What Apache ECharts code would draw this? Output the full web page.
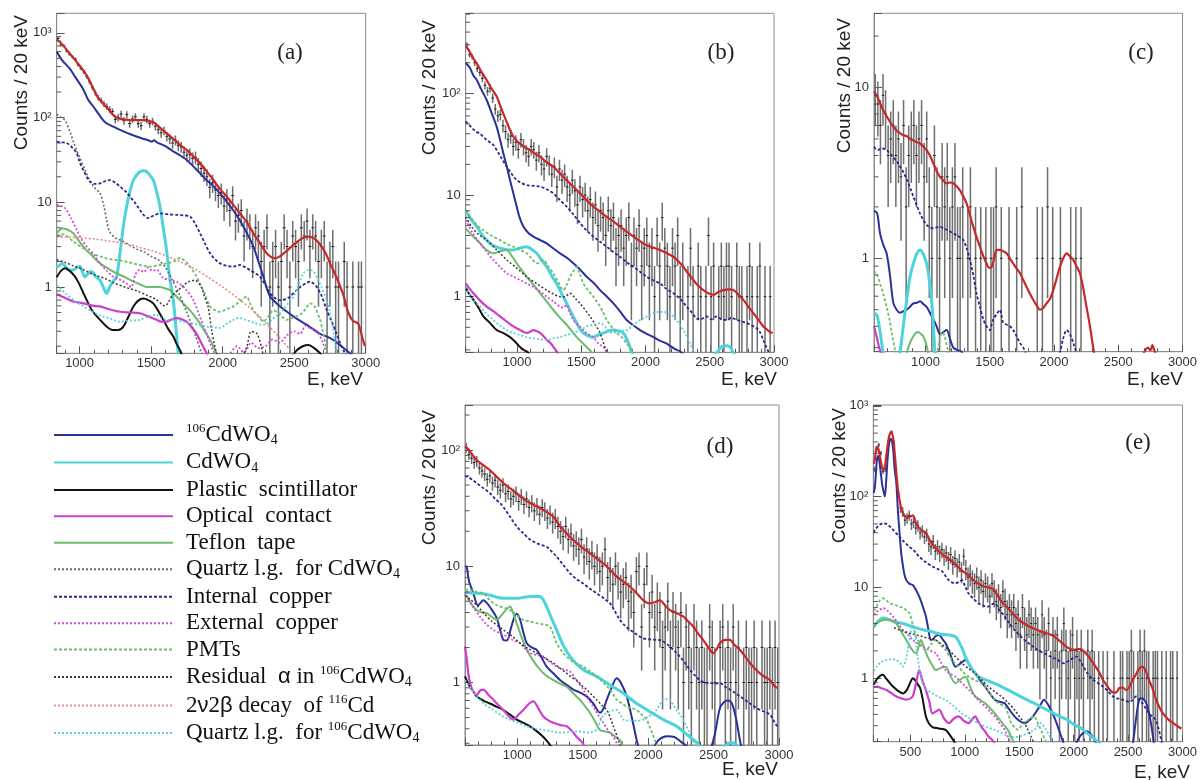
<!DOCTYPE html>
<html><head><meta charset="utf-8">
<script src="https://cdn.jsdelivr.net/npm/echarts@6.0.0/dist/echarts.min.js"></script>
<style>html,body{margin:0;padding:0;background:#fff;}#c{width:1200px;height:780px;}</style>
</head><body><div id="c"></div>
<script>
// ---------------- axis / tick tables ----------------
const BIN = 20;
const minorMult = [2,3,4,5,6,7,8,9];
const decades = [0.1,1,10,100,1000];
const xTickLabels = [500,1000,1500,2000,2500,3000];
const yTickValues = [1,10,100,1000];
const yTickTexts = ['1','10','10\u00B2','10\u00B3'];
const compNames = ['106CdWO4','CdWO4','Plastic scintillator','Optical contact','Teflon tape','Quartz l.g. for CdWO4','Internal copper','External copper','PMTs','Residual \u03B1 in 106CdWO4','2\u03BD2\u03B2 decay of 116Cd','Quartz l.g. for 106CdWO4'];
const legendTexts = [
 '{sup|106}{t|CdWO}{sub|4}',
 '{t|CdWO}{sub|4}',
 '{t|Plastic  scintillator}',
 '{t|Optical  contact}',
 '{t|Teflon  tape}',
 '{t|Quartz l.g.  for }{t|CdWO}{sub|4}',
 '{t|Internal  copper}',
 '{t|External  copper}',
 '{t|PMTs}',
 '{t|Residual  }{g|\u03B1}{t| in }{sup|106}{t|CdWO}{sub|4}',
 '{t|2}{g|\u03BD}{t|2}{g|\u03B2}{t| decay  of }{sup|116}{t|Cd}',
 '{t|Quartz l.g.  for }{sup|106}{t|CdWO}{sub|4}'
];

// ---------------- panel (a) ----------------
const a_binStart = 840;
const a_counts = [860,720,700,610,560,520,490,420,
 380,345,305,265,225,195,172,160,145,135,
 125,118,95,100,110,92,108,85,96,102,
 85,80,102,95,85,90,79,72,66,70,
 60,56,50,54,47,45,39,36,37,33,
 34,28,25,22,20,15,17,14,12,13,
 9,11,8,12,6,7,8,4,6,5,
 3,5,4,2,3,5,1,2,3,1,
 2,5,3,1,4,3,2,5,4,6,
 3,5,4,2,3,4,1,2,3,1,
 1,0,2,1,0,1,0,1,1,0];
const a_total = [[840,830],[870,760],[910,630],[968,479],[1026,360],[1061,290],[1096,220],[1131,170],[1166,145],[1200,125],[1247,103],[1306,95],[1360,93],[1434,93],[1492,90],[1527,86],[1562,76],[1600,67],[1644,58],[1700,48],[1760,40],[1800,34],[1842,29],[1877,24.5],[1935,18.3],[1980,14.5],[2028,11.7],[2075,9.3],[2121,7.4],[2170,5.8],[2215,4.3],[2260,3.3],[2308,2.5],[2340,2.25],[2366,2.18],[2400,2.3],[2440,2.6],[2500,3.2],[2550,3.7],[2599,3.93],[2640,3.75],[2680,3.2],[2720,2.5],[2751,1.9],[2800,1.25],[2844,0.8],[2878,0.5],[2910,0.4],[2948,0.37],[2965,0.3],[2980,0.24],[2995,0.2]];
const a_cd106 = [[840,600],[880,470],[930,380],[968,304],[1026,215],[1061,161],[1096,135],[1130,112],[1178,88],[1236,78],[1294,70],[1360,63],[1434,57],[1480,54],[1504,52],[1520,54],[1540,51],[1600,46],[1644,41],[1700,36],[1755,31],[1800,26],[1842,22],[1877,19],[1935,15.5],[1980,12.8],[2028,10.2],[2075,8],[2121,6.1],[2170,4.3],[2215,3.0],[2250,2.0],[2285,1.32],[2310,0.95],[2332,0.77],[2365,0.67],[2401,0.59],[2450,0.51],[2494,0.45],[2540,0.4],[2587,0.36],[2630,0.32],[2681,0.28],[2730,0.26],[2774,0.237],[2830,0.2],[2890,0.165],[2920,0.15]];
const a_cdwo = [[840,1.7],[860,1.8],[880,1.9],[900,1.75],[920,1.6],[956,1.59],[980,1.7],[1003,1.74],[1020,1.5],[1038,1.32],[1060,1.45],[1084,1.52],[1110,1.35],[1143,1.2],[1165,1.0],[1189,0.84],[1205,0.95],[1224,1.1],[1240,1.2],[1259,1.32],[1275,2.0],[1294,3.6],[1310,5.8],[1329,8.9],[1350,13],[1376,18.3],[1400,21],[1422,23],[1445,23.5],[1469,23],[1490,21],[1515,18.3],[1540,13],[1562,8.9],[1585,5],[1608,2.7],[1630,1.3],[1655,0.7],[1672,0.35],[1690,0.16]];
const a_plastic = [[840,1.3],[870,1.55],[900,1.66],[930,1.55],[960,1.38],[990,1.15],[1020,0.9],[1050,0.7],[1090,0.52],[1143,0.41],[1190,0.34],[1236,0.31],[1270,0.31],[1306,0.34],[1340,0.44],[1376,0.59],[1410,0.69],[1445,0.73],[1480,0.7],[1515,0.64],[1550,0.52],[1585,0.41],[1620,0.32],[1655,0.26],[1680,0.21],[1702,0.18],[1720,0.15],null,[2480,0.15],[2520,0.18],[2560,0.2],[2600,0.207],[2640,0.19],[2681,0.165],[2700,0.15]];
const a_optical = [[840,0.82],[870,0.78],[900,0.74],[950,0.68],[1026,0.64],[1100,0.6],[1143,0.59],[1200,0.55],[1283,0.51],[1350,0.5],[1422,0.49],[1480,0.45],[1538,0.41],[1570,0.39],[1608,0.39],[1640,0.41],[1678,0.43],[1710,0.42],[1749,0.39],[1780,0.34],[1818,0.28],[1850,0.22],[1888,0.165],[1900,0.15]];
const a_teflon = [[840,4.3],[860,4.7],[880,4.9],[910,4.8],[956,4.3],[990,3.6],[1026,3.0],[1080,2.4],[1143,1.9],[1200,1.65],[1259,1.45],[1320,1.3],[1376,1.16],[1420,1.08],[1469,1.0],[1520,1.0],[1562,1.0],[1600,0.96],[1631,0.92],[1670,0.8],[1702,0.7],[1740,0.6],[1772,0.53],[1810,0.44],[1842,0.37],[1880,0.29],[1912,0.24],[1940,0.19],[1958,0.165],[1970,0.15]];
const a_qzCd = [[840,110],[870,100],[898,93],[930,70],[960,50],[1000,34],[1038,24],[1080,17],[1110,14.5],[1143,12.8],[1170,9],[1189,6.2],[1210,4.5],[1250,3.8],[1300,3.5],[1350,3.1],[1400,2.8],[1450,2.6],[1500,2.3],[1550,2.1],[1600,1.7],[1650,1.2],[1700,0.8],[1750,0.5],[1800,0.3],[1850,0.17],[1870,0.15]];
const a_intCu = [[840,52],[870,51],[910,50],[950,44],[980,38],[1000,30],[1026,24],[1050,20],[1073,17.5],[1110,16.5],[1143,16.7],[1180,17.8],[1213,18.3],[1250,17],[1283,15.3],[1320,13.5],[1352,11.7],[1390,9.7],[1422,8.1],[1450,7],[1480,6.5],[1520,7.0],[1562,7.4],[1620,7.2],[1678,7.1],[1730,7.0],[1772,6.8],[1810,5.5],[1842,4.3],[1875,3.3],[1912,2.5],[1950,2.1],[1982,1.9],[2030,1.78],[2075,1.74],[2121,1.82],[2160,1.7],[2191,1.59],[2230,1.45],[2261,1.32],[2300,1.05],[2332,0.84],[2370,0.73],[2401,0.7],[2440,0.72],[2471,0.77],[2510,0.9],[2541,1.0],[2580,1.1],[2611,1.16],[2640,1.08],[2658,1.0],[2690,0.8],[2728,0.53],[2760,0.4],[2797,0.28],[2820,0.22],[2844,0.18],[2870,0.15]];
const a_extCu = [[840,9.3],[870,9],[900,8.5],[940,6.5],[980,4.7],[1020,3.5],[1050,3.0],[1100,2.4],[1143,1.9],[1190,1.55],[1236,1.32],[1290,1.2],[1329,1.1],[1360,1.0],[1390,1.4],[1420,1.6],[1450,1.5],[1480,1.7],[1510,1.55],[1540,1.6],[1580,1.3],[1630,1.2],[1680,1.15],[1740,0.95],[1795,0.7],[1840,0.45],[1888,0.28],[1920,0.2],[1950,0.16],[1965,0.15],null,[2040,0.15],[2100,0.2],[2150,0.17],[2200,0.22],[2250,0.19],[2300,0.2],[2350,0.24],[2400,0.22],[2450,0.27],[2500,0.3],[2540,0.28],[2580,0.35],[2620,0.32],[2660,0.3],[2700,0.22],[2730,0.16],[2740,0.15]];
const a_pmt = [[840,4.0],[870,4.2],[900,4.1],[960,3.4],[1026,2.86],[1080,2.5],[1143,2.3],[1200,2.15],[1259,2.08],[1320,2.0],[1376,1.9],[1430,1.8],[1492,1.74],[1550,1.8],[1608,1.9],[1660,2.0],[1702,2.2],[1740,2.0],[1772,1.74],[1810,1.4],[1842,1.1],[1880,0.8],[1912,0.59],[1950,0.53],[1982,0.51],[2030,0.55],[2075,0.59],[2120,0.68],[2168,0.77],[2190,0.65],[2215,0.53],[2250,0.45],[2285,0.39],[2320,0.45],[2355,0.53],[2400,0.47],[2448,0.41],[2500,0.44],[2541,0.47],[2580,0.55],[2611,0.64],[2640,0.6],[2681,0.41],[2700,0.3],[2728,0.18],[2740,0.15]];
const a_alpha = [[840,2.1],[900,1.95],[950,1.8],[1026,1.6],[1100,1.4],[1180,1.25],[1250,1.1],[1330,0.98],[1400,0.9],[1470,0.8],[1530,0.72],[1597,0.6],[1650,0.8],[1714,1.0],[1760,1.15],[1807,1.2],[1850,1.0],[1875,0.75],[1898,0.59],[1923,0.31],[1945,0.2],[1960,0.16],[1970,0.15],null,[2140,0.15],[2170,0.2],[2200,0.3],[2240,0.28],[2270,0.2],[2285,0.15]];
const a_bb = [[840,3.9],[900,3.9],[1000,3.8],[1100,3.7],[1200,3.5],[1300,3.3],[1400,3.0],[1500,2.7],[1600,2.35],[1700,2.0],[1800,1.65],[1900,1.3],[2000,1.0],[2100,0.75],[2200,0.55],[2300,0.38],[2400,0.25],[2500,0.16],[2520,0.15]];
const a_qz106 = [[840,1.05],[870,0.95],[900,0.84],[960,0.7],[1026,0.59],[1100,0.5],[1160,0.45],[1220,0.42],[1283,0.39],[1350,0.4],[1422,0.41],[1480,0.45],[1538,0.47],[1570,0.43],[1608,0.41],[1660,0.41],[1720,0.39],[1795,0.37],[1888,0.34],[1982,0.33],[2030,0.37],[2075,0.41],[2120,0.43],[2160,0.41],[2220,0.38],[2260,0.36],[2300,0.36],[2350,0.42],[2401,0.49],[2450,0.62],[2494,0.77],[2530,1.05],[2564,1.45],[2599,1.59],[2630,1.55],[2658,1.32],[2690,1.0],[2728,0.7],[2750,0.5],[2774,0.31],[2790,0.2],[2800,0.15]];

// ---------------- panel (b) ----------------
const b_binStart = 600;
const b_counts = [300,240,230,200,175,160,140,120,105,112,
 90,70,60,62,48,42,35,38,30,33,
 28,35,30,26,24,30,28,22,26,20,
 18,24,20,16,19,12,18,14,16,12,
 10,14,11,8,12,9,10,7,9,6,
 8,5,7,6,4,7,5,6,3,4,
 5,3,4,6,2,4,3,5,2,3,
 4,2,3,1,4,2,6,3,2,1,
 3,2,4,1,2,0,1,3,1,0,
 2,1,0,1,4,1,2,0,1,2,
 1,2,2,1,0,2,1,1,0,1,
 2,1,0,1,2,0,1,0,1,0];
const b_total = [[600,290],[620,270],[660,220],[686,197],[720,165],[763,135],[800,112],[841,93],[870,75],[893,63],[920,52],[945,43.5],[980,36],[1023,32],[1060,29.5],[1101,27.7],[1140,25.5],[1179,23.8],[1230,21],[1282,19],[1330,16.5],[1386,14],[1440,12],[1490,10.4],[1540,8.9],[1594,7.7],[1650,6.8],[1698,6.1],[1750,5.5],[1801,4.9],[1850,4.4],[1905,3.9],[1960,3.5],[2009,3.2],[2060,3.05],[2113,2.88],[2160,2.7],[2217,2.47],[2260,2.2],[2294,1.97],[2330,1.7],[2372,1.46],[2410,1.28],[2450,1.16],[2490,1.08],[2528,1.04],[2560,1.1],[2606,1.16],[2650,1.18],[2684,1.16],[2720,1.06],[2762,0.93],[2800,0.8],[2839,0.69],[2880,0.59],[2917,0.51],[2950,0.47],[2969,0.45],[2990,0.44]];
const b_cd106 = [[600,200],[630,180],[660,150],[686,135],[720,110],[763,86],[800,65],[841,47],[870,34],[893,25.7],[920,19],[945,14],[970,10.5],[997,7.7],[1020,6],[1049,4.9],[1090,4.2],[1127,3.9],[1180,3.6],[1231,3.35],[1280,3.0],[1334,2.67],[1390,2.4],[1438,2.13],[1490,1.85],[1542,1.57],[1600,1.35],[1646,1.16],[1700,1.0],[1750,0.86],[1800,0.72],[1853,0.59],[1900,0.53],[1957,0.47],[2010,0.43],[2061,0.4],[2110,0.37],[2165,0.345],[2220,0.31],[2268,0.29],[2300,0.27]];
const b_cdwo = [[600,7.1],[640,5.8],[686,4.9],[720,4.2],[763,3.6],[810,3.2],[867,3.0],[920,2.9],[971,2.88],[1020,3.0],[1075,3.1],[1110,2.95],[1153,2.67],[1190,2.3],[1231,1.97],[1270,1.6],[1308,1.35],[1350,1.05],[1386,0.86],[1420,0.7],[1464,0.55],[1490,0.48],[1516,0.44],[1560,0.41],[1594,0.4],[1630,0.42],[1672,0.44],[1710,0.46],[1750,0.47],[1790,0.46],[1827,0.44],[1855,0.38],[1879,0.32],[1895,0.27],null,[2530,0.26],[2554,0.28],[2580,0.31],[2606,0.33],[2630,0.33],[2658,0.32],[2684,0.28],[2700,0.26]];
const b_plastic = [[600,1.25],[620,1.1],[660,0.93],[700,0.78],[738,0.64],[790,0.55],[841,0.47],[890,0.44],[945,0.4],[985,0.36],[1023,0.32],[1050,0.3],[1075,0.29],[1100,0.27]];
const b_optical = [[600,1.35],[620,1.25],[660,1.08],[710,0.92],[763,0.8],[815,0.72],[867,0.64],[920,0.57],[971,0.51],[1023,0.47],[1075,0.44],[1100,0.45],[1127,0.47],[1150,0.46],[1179,0.44],[1205,0.41],[1231,0.375],[1260,0.35],[1290,0.31],[1308,0.29],[1320,0.27]];
const b_teflon = [[600,4.7],[650,4.0],[712,3.35],[760,2.9],[815,2.67],[870,2.8],[919,2.88],[960,2.5],[997,2.13],[1040,1.8],[1075,1.57],[1130,1.3],[1179,1.08],[1230,0.9],[1282,0.74],[1330,0.63],[1386,0.53],[1420,0.47],[1464,0.4],[1500,0.36],[1542,0.32],[1575,0.29],[1590,0.27]];
const b_intCu = [[600,53],[640,47],[680,42],[712,40],[760,35],[815,31],[870,24],[919,19],[960,16],[997,14],[1040,13],[1075,12.5],[1130,12.3],[1179,12.1],[1230,11.4],[1282,10.4],[1330,9],[1386,7.7],[1440,6.4],[1490,5.3],[1540,4.5],[1594,3.9],[1650,3.45],[1698,3.1],[1750,2.75],[1801,2.47],[1850,2.2],[1905,1.97],[1960,1.75],[2009,1.57],[2060,1.45],[2113,1.35],[2160,1.2],[2217,1.08],[2270,0.95],[2320,0.8],[2360,0.7],[2398,0.61],[2430,0.6],[2476,0.64],[2510,0.6],[2554,0.64],[2590,0.6],[2632,0.59],[2670,0.62],[2710,0.59],[2750,0.57],[2788,0.55],[2830,0.52],[2865,0.49],[2890,0.45],[2917,0.375],[2940,0.32],[2956,0.29],[2970,0.26]];
const b_extCu = [[600,5.7],[650,4.3],[712,3.35],[760,2.8],[815,2.3],[870,1.95],[919,1.7],[970,1.58],[1023,1.46],[1075,1.35],[1127,1.25],[1180,1.12],[1231,1.0],[1282,0.9],[1334,0.8],[1360,0.78],[1386,0.83],[1410,0.7],[1438,0.59],[1480,0.52],[1516,0.47],[1550,0.43],[1594,0.4],[1630,0.35],[1672,0.32],[1700,0.29],[1720,0.27]];
const b_pmt = [[600,7.1],[640,6.0],[690,5.0],[738,4.5],[800,4.0],[867,3.6],[920,3.3],[971,3.1],[1020,2.9],[1075,2.67],[1110,2.4],[1153,2.13],[1180,2.2],[1205,2.3],[1240,2.0],[1282,1.7],[1320,1.4],[1360,1.16],[1385,1.3],[1412,1.57],[1440,1.8],[1464,1.97],[1490,1.65],[1516,1.35],[1555,1.15],[1594,1.0],[1620,0.9],[1646,0.8],[1670,0.7],[1698,0.59],[1740,0.5],[1775,0.44],[1815,0.4],[1853,0.35],[1880,0.31],[1900,0.28],[1910,0.27]];
const b_alpha = [[600,6.1],[650,4.8],[700,4.1],[763,3.6],[840,2.9],[919,2.3],[1000,1.9],[1075,1.57],[1150,1.35],[1231,1.16],[1290,1.05],[1334,1.0],[1370,1.0],[1412,1.08],[1450,0.97],[1490,0.86],[1530,0.74],[1568,0.64],[1610,0.53],[1646,0.44],[1670,0.36],[1690,0.3],[1700,0.27]];
const b_qz106 = [[600,1.25],[650,0.95],[712,0.8],[760,0.68],[815,0.59],[867,0.52],[919,0.47],[970,0.44],[1023,0.42],[1075,0.4],[1127,0.39],[1180,0.38],[1231,0.375],[1282,0.39],[1334,0.4],[1386,0.42],[1438,0.44],[1490,0.47],[1542,0.51],[1594,0.53],[1646,0.55],[1690,0.5],[1720,0.45],[1750,0.44],[1800,0.46],[1853,0.47],[1900,0.52],[1957,0.59],[2010,0.64],[2061,0.69],[2100,0.71],[2139,0.71],[2180,0.68],[2217,0.64],[2260,0.55],[2294,0.47],[2320,0.41],[2346,0.35],[2370,0.3],[2385,0.28]];

// ---------------- panel (c) ----------------
const c_binStart = 600;
const c_counts = [9,8,6,9,7,4,5,6,4,5,
 3,6,2,4,5,6,4,5,6,3,
 5,2,1,4,2,1,3,2,3,1,
 2,3,1,1,2,0,1,2,0,1,
 0,1,0,1,0,1,1,2,0,1,
 0,0,1,0,0,1,0,2,0,0,
 0,0,0,1,0,1,0,2,0,1,
 0,0,1,0,0,0,1,0,1,0,
 1,0,0,0,0,0,0,0,0,0,
 0,0,0,0,0,0,0,0,0,0,
 0,0,0,0,0,0,0,0,0,0,
 0,0,0,0,0,0,0,0,0,0];
const c_total = [[600,9.5],[625,8.85],[647,8.1],[670,7.4],[698,6.8],[725,6.3],[750,5.9],[775,5.6],[802,5.4],[828,5.25],[854,5.2],[880,5.0],[906,4.9],[930,4.8],[958,4.7],[985,4.5],[1009,4.3],[1035,4.0],[1061,3.6],[1087,3.25],[1113,3.0],[1140,2.85],[1165,2.75],[1190,2.78],[1217,2.75],[1240,2.65],[1269,2.5],[1295,2.3],[1320,2.1],[1346,1.8],[1372,1.53],[1398,1.33],[1424,1.17],[1450,1.03],[1476,0.93],[1495,0.88],[1515,0.89],[1535,1.0],[1554,1.12],[1580,1.12],[1605,1.1],[1631,1.07],[1657,1.0],[1683,0.93],[1710,0.87],[1735,0.82],[1760,0.75],[1787,0.68],[1813,0.62],[1839,0.57],[1865,0.53],[1891,0.5],[1915,0.51],[1942,0.545],[1970,0.58],[1994,0.65],[2020,0.76],[2046,0.89],[2072,1.0],[2098,1.07],[2124,1.03],[2150,0.98],[2175,0.9],[2201,0.82],[2227,0.67],[2253,0.52],[2280,0.4],[2305,0.3],[2320,0.26],null,[2690,0.27],[2710,0.29],[2730,0.3],[2750,0.29],[2765,0.31],[2780,0.29],[2795,0.27]];
const c_cd106 = [[600,1.9],[625,1.83],[647,1.4],[672,1.2],[698,1.07],[724,0.8],[750,0.55],[776,0.5],[802,0.48],[828,0.49],[854,0.5],[880,0.52],[906,0.545],[932,0.55],[958,0.56],[983,0.54],[1009,0.52],[1035,0.48],[1061,0.44],[1087,0.4],[1113,0.36],[1140,0.37],[1165,0.38],[1190,0.34],[1217,0.3],[1250,0.29],[1280,0.285],[1295,0.27]];
const c_cdwo = [[600,0.48],[625,0.46],[640,0.4],[650,0.36],[665,0.3],[675,0.27],null,[790,0.26],[802,0.28],[828,0.4],[854,0.57],[880,0.78],[906,0.93],[932,1.06],[958,1.12],[983,1.06],[1009,0.93],[1030,0.75],[1048,0.57],[1062,0.4],[1074,0.28],[1080,0.25]];
const c_optical = [[600,0.4],[620,0.35],[640,0.3],[660,0.27]];
const c_teflon = [[840,0.26],[854,0.28],[880,0.32],[906,0.35],[925,0.365],[945,0.37],[965,0.36],[983,0.35],[1003,0.32],[1022,0.28],[1035,0.26]];
const c_intCu = [[600,4.5],[630,4.3],[660,4.4],[698,4.3],[725,4.1],[750,3.9],[776,3.7],[802,3.45],[828,3.2],[854,2.9],[880,2.6],[906,2.3],[932,2.05],[958,1.83],[983,1.68],[1009,1.57],[1035,1.52],[1061,1.5],[1087,1.52],[1113,1.53],[1140,1.5],[1165,1.47],[1190,1.44],[1217,1.4],[1255,1.35],[1294,1.28],[1320,1.15],[1346,0.98],[1372,0.8],[1398,0.62],[1424,0.52],[1450,0.44],[1476,0.4],[1502,0.38],[1515,0.41],[1528,0.44],[1554,0.47],[1580,0.5],[1592,0.46],[1605,0.42],[1630,0.41],[1657,0.4],[1683,0.38],[1709,0.35],[1735,0.32],[1761,0.3],[1780,0.28],[1795,0.26],null,[2030,0.26],[2046,0.28],[2072,0.34],[2098,0.38],[2124,0.36],[2150,0.32],[2175,0.28],[2190,0.26]];
const c_pmt = [[600,0.85],[630,0.78],[650,0.7],[672,0.62],[698,0.52],[720,0.44],[740,0.36],[760,0.3],[775,0.27],null,[1090,0.27],[1110,0.33],[1130,0.37],[1150,0.35],[1170,0.3],[1185,0.27]];

// ---------------- panel (d) ----------------
const d_binStart = 600;
const d_counts = [105,92,85,78,80,70,66,62,56,60,
 52,55,48,45,50,42,44,38,40,42,
 36,40,34,38,32,35,30,33,28,32,
 30,26,28,24,26,22,20,18,22,17,
 19,15,16,14,17,12,14,11,13,10,
 12,9,10,14,8,9,7,10,8,6,
 7,8,5,6,4,9,10,3,7,10,
 4,6,3,5,4,2,3,5,2,4,
 3,2,4,1,3,2,1,3,2,1,
 2,1,1,3,2,1,0,2,3,1,
 2,1,3,1,2,0,1,2,1,1,
 2,1,0,2,1,1,2,1,2,1];
const d_total = [[600,108],[630,100],[660,90],[689,82],[740,74],[791,67],[840,59],[893,52],[944,47],[995,42.5],[1046,38],[1097,35],[1150,32.5],[1199,30.5],[1240,28.5],[1275,26.7],[1315,23],[1352,20.5],[1400,18],[1454,15.8],[1505,14.2],[1555,12.9],[1605,11.7],[1657,10.6],[1710,9.3],[1759,8.15],[1810,7.4],[1861,6.7],[1910,5.9],[1962,5.1],[2013,4.8],[2050,4.9],[2090,5.1],[2130,4.6],[2166,4.2],[2220,3.95],[2268,3.7],[2300,3.4],[2344,3.03],[2380,2.65],[2420,2.33],[2460,2.0],[2497,1.79],[2525,1.95],[2548,2.18],[2590,2.33],[2624,2.33],[2660,2.1],[2701,1.91],[2740,1.68],[2778,1.47],[2815,1.32],[2854,1.2],[2890,1.12],[2931,1.05],[2950,0.98],[2969,0.92],[2990,0.9]];
const d_cd106 = [[600,10],[613,9.9],[630,7.5],[663,5.9],[700,4.6],[740,5.1],[770,4.8],[800,4.3],[842,3.6],[870,2.8],[893,2.33],[920,2.3],[950,2.9],[975,3.6],[995,3.9],[1020,3.5],[1046,2.7],[1072,2.18],[1110,2.0],[1148,1.91],[1190,1.6],[1224,1.37],[1275,1.2],[1326,1.05],[1380,0.95],[1428,0.87],[1480,0.82],[1530,0.76],[1580,0.66],[1632,0.55],[1660,0.6],[1683,0.71],[1720,0.9],[1759,1.09],[1790,1.0],[1836,0.76],[1875,0.5],[1912,0.32],[1930,0.27],null,[2040,0.27],[2080,0.32],[2142,0.345],[2200,0.34],[2250,0.31],[2300,0.28],[2320,0.26],null,[2480,0.27],[2510,0.36],[2548,0.6],[2580,0.68],[2610,0.7],[2640,0.66],[2670,0.5],[2701,0.32],[2715,0.27]];
const d_cdwo = [[600,6.0],[640,5.9],[690,5.85],[740,5.8],[800,5.6],[850,5.4],[893,5.3],[940,5.3],[995,5.3],[1046,5.4],[1097,5.5],[1140,5.5],[1173,5.5],[1200,5.1],[1224,4.5],[1260,3.6],[1300,2.84],[1350,2.1],[1403,1.67],[1450,1.45],[1504,1.29],[1555,1.2],[1606,1.13],[1657,1.04],[1708,0.95],[1760,0.88],[1810,0.81],[1860,0.73],[1912,0.66],[1962,0.61],[2013,0.56],[2064,0.52],[2115,0.48],[2166,0.45],[2217,0.42],[2268,0.38],[2319,0.34],[2350,0.32],[2375,0.3],[2400,0.28],null,[2570,0.28],[2600,0.29],[2630,0.305],[2660,0.3],[2690,0.28]];
const d_plastic = [[600,1.13],[630,0.95],[660,0.85],[689,0.76],[740,0.7],[791,0.66],[840,0.62],[893,0.58],[944,0.53],[995,0.48],[1046,0.45],[1097,0.42],[1150,0.38],[1199,0.34],[1230,0.31],[1250,0.29],[1260,0.28]];
const d_optical = [[600,2.04],[613,1.6],[630,1.1],[650,0.9],[670,0.82],[689,0.78],[715,0.85],[740,0.87],[780,0.78],[817,0.71],[860,0.63],[893,0.58],[930,0.52],[970,0.48],[1010,0.53],[1046,0.58],[1085,0.65],[1122,0.69],[1160,0.6],[1199,0.51],[1240,0.47],[1275,0.45],[1330,0.43],[1377,0.42],[1420,0.38],[1454,0.34],[1490,0.31],[1510,0.29]];
const d_teflon = [[600,5.8],[613,5.5],[650,4.7],[689,4.2],[730,4.0],[766,3.95],[800,3.7],[842,3.46],[880,3.8],[920,4.3],[944,4.5],[970,3.9],[995,3.24],[1030,2.5],[1072,1.91],[1120,1.55],[1173,1.29],[1220,1.15],[1275,1.05],[1326,0.98],[1377,0.92],[1430,0.8],[1479,0.71],[1520,0.62],[1555,0.55],[1595,0.46],[1632,0.39],[1670,0.38],[1708,0.37],[1750,0.34],[1785,0.32],[1800,0.29]];
const d_intCu = [[600,60],[630,58],[660,55],[689,52],[740,47],[791,42.5],[830,38],[868,35],[905,31],[944,26.7],[995,22],[1046,19.2],[1097,17],[1148,15.8],[1190,15.2],[1224,14.7],[1260,13.5],[1300,12.1],[1350,10.3],[1403,8.7],[1450,7.8],[1504,7.1],[1555,6.4],[1606,5.85],[1660,5.3],[1708,4.8],[1745,4.1],[1784,3.46],[1820,3.1],[1861,2.84],[1910,2.6],[1962,2.4],[2013,2.35],[2064,2.33],[2100,2.3],[2130,2.2],[2166,2.04],[2205,1.85],[2243,1.67],[2280,1.48],[2319,1.29],[2357,1.15],[2395,1.05],[2430,1.0],[2471,0.99],[2510,0.98],[2548,0.99],[2590,0.92],[2624,0.87],[2660,0.82],[2701,0.76],[2740,0.71],[2778,0.66],[2815,0.62],[2854,0.58],[2890,0.56],[2931,0.53],[2950,0.49],[2969,0.45],[2985,0.42]];
const d_extCu = [[600,6.0],[620,5.5],[660,4.5],[714,3.7],[760,3.2],[817,2.84],[870,2.65],[919,2.5],[970,2.3],[1021,2.18],[1060,1.95],[1097,1.79],[1150,1.72],[1199,1.67],[1250,1.5],[1300,1.37],[1350,1.3],[1403,1.24],[1450,1.05],[1504,0.87],[1540,0.73],[1581,0.62],[1620,0.52],[1657,0.45],[1700,0.38],[1734,0.34],[1760,0.3],[1770,0.28]];
const d_pmt = [[600,6.3],[640,6.25],[690,6.0],[740,5.85],[791,5.1],[850,4.6],[944,4.2],[995,3.8],[1046,3.46],[1097,3.35],[1148,3.24],[1200,3.15],[1250,3.03],[1275,2.6],[1300,2.18],[1350,1.8],[1403,1.57],[1455,1.45],[1504,1.37],[1555,1.25],[1606,1.13],[1657,1.0],[1708,0.87],[1735,0.78],[1759,0.71],[1800,0.66],[1835,0.62],[1875,0.6],[1912,0.58],[1950,0.53],[1988,0.48],[2010,0.42],[2030,0.37],[2060,0.3],[2070,0.28]];
const d_alpha = [[600,5.6],[640,5.2],[690,4.6],[740,4.0],[800,3.4],[893,2.84],[960,2.5],[1021,2.18],[1085,1.95],[1148,1.79],[1210,1.62],[1275,1.47],[1330,1.32],[1377,1.2],[1420,1.1],[1454,1.05],[1490,0.95],[1530,0.87],[1570,0.78],[1606,0.71],[1645,0.64],[1683,0.58],[1710,0.5],[1734,0.42],[1760,0.35],[1780,0.3],[1790,0.28]];
const d_qz106 = [[600,1.05],[640,0.9],[689,0.76],[750,0.65],[817,0.58],[880,0.52],[944,0.48],[1010,0.45],[1071,0.42],[1135,0.4],[1199,0.39],[1262,0.38],[1326,0.37],[1390,0.375],[1454,0.38],[1505,0.375],[1555,0.37],[1580,0.38],[1606,0.39],[1630,0.45],[1655,0.52],[1690,0.55],[1720,0.57],[1759,0.58],[1790,0.52],[1810,0.48],[1860,0.47],[1910,0.47],[1962,0.48],[2013,0.52],[2064,0.58],[2090,0.65],[2115,0.71],[2140,0.72],[2166,0.71],[2190,0.65],[2217,0.58],[2250,0.52],[2280,0.45],[2310,0.38],[2340,0.32],[2360,0.29]];

// ---------------- panel (e) ----------------
const e_binStart = 160;
const e_counts = [200,330,370,300,190,200,300,430,510,400,200,110,75,68,
 55,58,62,50,52,45,48,40,42,36,
 38,30,28,32,25,28,24,26,22,24,
 20,23,18,21,17,19,15,22,16,13,
 14,12,11,13,10,12,9,11,10,8,
 11,9,7,8,6,9,7,5,6,5,
 6,4,5,3,6,4,3,5,4,3,
 4,3,2,5,3,2,4,1,3,2,
 3,1,2,4,2,1,2,3,1,2,
 1,2,1,0,2,1,2,1,0,1,
 0,1,0,1,0,0,1,0,0,1,
 1,0,1,1,2,1,0,1,2,1,
 2,1,1,0,1,1,1,0,1,0,
 1,0,1,1,0,1,0,0];
const e_total = [[165,230],[175,260],[191,355],[205,340],[225,260],[250,197],[265,210],[285,320],[305,460],[326,520],[345,420],[360,270],[372,181],[386,120],[401,92],[416,75],[431,66],[460,60],[492,60],[522,62],[553,51],[582,45],[612,42],[643,40],[680,33],[733,27],[780,24],[820,22],[870,20],[914,18],[970,15.5],[1035,13.5],[1080,12],[1125,11],[1170,10.3],[1216,10],[1260,9.6],[1300,8.2],[1336,7],[1380,6.2],[1420,5.5],[1487,4.5],[1560,3.9],[1638,3.5],[1720,3.2],[1780,3.05],[1819,2.9],[1860,2.65],[1900,2.4],[1950,2.15],[2000,2.05],[2060,2.1],[2100,1.95],[2150,1.65],[2200,1.35],[2240,1.13],[2270,0.95],[2300,0.85],[2330,0.75],[2361,0.7],[2390,0.7],[2420,0.78],[2451,0.79],[2482,0.74],[2512,0.8],[2540,0.95],[2572,1.1],[2602,1.28],[2632,1.34],[2660,1.22],[2692,0.96],[2723,0.78],[2753,0.6],[2780,0.5],[2813,0.42],[2843,0.38],[2870,0.35],[2900,0.33],[2930,0.31],[2964,0.29],[2990,0.28]];
const e_cd106 = [[165,110],[175,129],[190,230],[200,280],[212,260],[225,200],[240,140],[250,120],[266,100],[280,160],[290,250],[305,380],[318,430],[330,420],[343,320],[356,200],[372,140],[386,70],[401,40],[416,24],[430,18],[445,14],[462,12.1],[490,11],[522,10.6],[550,9.5],[582,7.9],[612,6.3],[643,4.8],[665,3.5],[688,2.64],[710,2.7],[730,2.9],[763,3.0],[795,2.7],[824,2.43],[870,1.8],[914,1.34],[960,1.45],[1005,1.59],[1050,1.35],[1095,1.13],[1140,0.95],[1186,0.81],[1230,0.68],[1276,0.58],[1320,0.55],[1367,0.53],[1410,0.45],[1457,0.38],[1500,0.34],[1548,0.32],[1610,0.36],[1668,0.45],[1700,0.52],[1728,0.58],[1770,0.5],[1819,0.38],[1865,0.27],[1909,0.19],[1935,0.16],null,[2000,0.16],[2030,0.2],[2059,0.23],[2090,0.25],[2120,0.26],[2160,0.24],[2210,0.19],[2240,0.16],null,[2510,0.16],[2542,0.19],[2572,0.35],[2602,0.58],[2632,0.6],[2655,0.56],[2678,0.49],[2710,0.32],[2738,0.19],[2755,0.16]];
const e_cdwo = [[165,3.8],[175,3.9],[210,4.3],[250,4.6],[290,4.5],[330,4.3],[380,4.1],[431,4.0],[490,3.8],[550,3.6],[600,3.45],[650,3.35],[700,3.25],[733,3.15],[790,3.05],[850,3.0],[914,2.87],[940,2.6],[960,2.35],[985,2.0],[1005,1.73],[1030,1.5],[1060,1.3],[1095,1.15],[1125,1.04],[1180,0.97],[1230,0.92],[1290,0.86],[1336,0.81],[1420,0.72],[1500,0.64],[1570,0.58],[1638,0.53],[1720,0.47],[1800,0.42],[1870,0.38],[1939,0.35],[2000,0.31],[2050,0.29],[2090,0.27],[2120,0.25],[2180,0.22],[2240,0.19],[2270,0.17]];
const e_plastic = [[165,0.85],[175,0.9],[200,1.0],[225,1.07],[250,1.09],[275,1.0],[300,0.92],[341,0.81],[390,0.72],[431,0.68],[470,0.75],[500,0.9],[522,1.0],[545,0.95],[570,0.85],[590,0.78],[612,0.6],[643,0.38],[670,0.32],[703,0.29],[760,0.28],[824,0.27],[870,0.23],[914,0.19],[935,0.17]];
const e_optical = [[165,0.8],[191,0.81],[230,0.78],[281,0.74],[330,0.68],[372,0.63],[420,0.6],[462,0.58],[500,0.6],[522,0.63],[550,0.85],[582,1.23],[610,0.95],[643,0.74],[675,0.55],[703,0.41],[735,0.43],[763,0.45],[810,0.36],[854,0.32],[900,0.36],[944,0.38],[990,0.34],[1035,0.32],[1065,0.35],[1095,0.38],[1125,0.33],[1155,0.29],[1186,0.26],[1216,0.23],[1250,0.21],[1276,0.19]];
const e_teflon = [[165,3.6],[191,4.03],[230,4.3],[281,4.4],[330,4.3],[372,4.0],[420,3.2],[462,2.64],[510,2.1],[553,1.88],[575,2.2],[598,2.64],[625,2.2],[658,1.73],[700,1.4],[733,1.23],[780,1.3],[824,1.34],[870,1.05],[914,0.88],[960,0.97],[1005,1.04],[1050,0.8],[1095,0.63],[1140,0.58],[1186,0.53],[1230,0.47],[1276,0.41],[1336,0.33],[1396,0.27],[1430,0.22],[1457,0.19]];
const e_intCu = [[165,40],[175,43],[210,48],[250,51],[280,50],[311,47],[350,42],[401,36],[440,32],[492,28],[540,25],[582,21.8],[640,19],[703,17],[750,16],[793,15],[820,13.5],[853,12],[885,11.3],[914,11.1],[945,11.5],[974,12],[1000,10.5],[1034,8.6],[1080,7.5],[1125,6.7],[1170,6.3],[1215,6.15],[1250,6.5],[1276,6.7],[1310,5.8],[1366,4.8],[1410,4.0],[1457,3.4],[1500,3.0],[1547,2.64],[1600,2.35],[1668,2.05],[1730,1.88],[1788,1.73],[1850,1.6],[1909,1.46],[1970,1.6],[2029,1.73],[2060,1.55],[2090,1.34],[2130,1.12],[2180,0.96],[2225,0.88],[2270,0.81],[2315,0.72],[2361,0.63],[2400,0.6],[2451,0.58],[2512,0.55],[2545,0.58],[2572,0.63],[2600,0.58],[2632,0.53],[2660,0.47],[2692,0.41],[2720,0.38],[2753,0.35],[2780,0.28],[2800,0.22],[2813,0.19]];
const e_extCu = [[165,5.0],[175,5.2],[210,5.6],[250,5.9],[300,5.4],[341,4.76],[390,4.0],[431,3.4],[480,3.0],[522,2.64],[570,2.4],[612,2.23],[670,2.05],[733,1.88],[780,1.5],[824,1.23],[870,1.12],[914,1.04],[960,0.92],[1005,0.81],[1050,0.72],[1095,0.63],[1140,0.55],[1186,0.49],[1230,0.43],[1276,0.38],[1320,0.32],[1367,0.27],[1400,0.22],[1427,0.19]];
const e_pmt = [[165,5.5],[191,6.15],[220,7.2],[250,7.6],[280,7.2],[311,6.7],[360,6.4],[401,6.15],[450,5.8],[492,5.2],[520,4.0],[553,2.87],[600,2.3],[643,2.05],[690,2.35],[733,2.64],[780,2.3],[824,2.05],[880,1.6],[944,1.34],[990,1.15],[1035,1.04],[1095,0.95],[1155,0.88],[1215,0.72],[1276,0.58],[1320,0.52],[1367,0.49],[1400,0.4],[1427,0.32],[1457,0.29],[1487,0.27],[1520,0.3],[1560,0.33],[1600,0.36],[1638,0.38],[1670,0.32],[1700,0.27],[1730,0.22],[1760,0.19]];
const e_alpha = [[350,3.6],[400,3.4],[440,3.3],[500,3.1],[560,3.0],[612,2.87],[670,2.75],[733,2.64],[790,2.35],[854,2.05],[910,1.75],[974,1.46],[1035,1.28],[1095,1.13],[1155,0.96],[1216,0.81],[1276,0.71],[1336,0.63],[1396,0.54],[1457,0.45],[1500,0.38],[1548,0.32],[1580,0.27],[1608,0.23],[1630,0.2]];
const e_qz106 = [[165,1.2],[191,1.34],[230,1.5],[281,1.59],[330,1.62],[372,1.59],[410,1.45],[431,1.34],[460,1.6],[480,2.2],[500,3.0],[522,4.0],[540,3.2],[555,2.3],[567,1.73],[590,1.15],[612,0.88],[650,0.75],[703,0.68],[760,0.62],[824,0.58],[900,0.49],[974,0.41],[1050,0.36],[1125,0.32],[1200,0.29],[1276,0.27],[1336,0.25],[1396,0.23],[1457,0.225],[1517,0.23],[1580,0.25],[1638,0.27],[1670,0.3],[1698,0.32],[1740,0.28],[1780,0.23],[1819,0.19]];

// ---------------- styles ----------------
const compStyle = [
 {color:'#2b3199', width:2, type:'solid'},
 {color:'#4dd3dc', width:3, type:'solid'},
 {color:'#111111', width:2, type:'solid'},
 {color:'#cc3fcc', width:2.2, type:'solid'},
 {color:'#6dbb6d', width:2, type:'solid'},
 {color:'#6a6a6a', width:1.6, type:[2,2]},
 {color:'#2a2a8a', width:1.8, type:[3,2]},
 {color:'#d24ad2', width:1.8, type:[2,2]},
 {color:'#6cc06c', width:1.8, type:[3,2]},
 {color:'#3a3a3a', width:1.5, type:[2,2]},
 {color:'#e88a8a', width:1.6, type:[2,2]},
 {color:'#5ccfd8', width:1.8, type:[2,2]}
];

const panels = [
 {grid:{left:56.7,top:13.3,width:309,height:340}, xr:[840,3000], yr:[0.165,1700], start:a_binStart, counts:a_counts, total:a_total,
  comps:[a_cd106,a_cdwo,a_plastic,a_optical,a_teflon,a_qzCd,a_intCu,a_extCu,a_pmt,a_alpha,a_bb,a_qz106],
  label:'(a)', lab:[290,53], yt:[22,15], xt:[363,380]},
 {grid:{left:465.7,top:13.3,width:308.3,height:339}, xr:[600,3000], yr:[0.284,612], start:b_binStart, counts:b_counts, total:b_total,
  comps:[b_cd106,b_cdwo,b_plastic,b_optical,b_teflon,null,b_intCu,b_extCu,b_pmt,b_alpha,null,b_qz106],
  label:'(b)', lab:[721,53], yt:[430,20], xt:[777,380]},
 {grid:{left:874,top:13.3,width:308.7,height:338.4}, xr:[600,3000], yr:[0.284,27.2], start:c_binStart, counts:c_counts, total:c_total,
  comps:[c_cd106,c_cdwo,null,c_optical,c_teflon,null,c_intCu,null,c_pmt,null,null,null],
  label:'(c)', lab:[1141,53], yt:[845,18], xt:[1183,380]},
 {grid:{left:465,top:405,width:314,height:340}, xr:[600,3000], yr:[0.29,244], start:d_binStart, counts:d_counts, total:d_total,
  comps:[d_cd106,d_cdwo,d_plastic,d_optical,d_teflon,null,d_intCu,d_extCu,d_pmt,d_alpha,null,d_qz106],
  label:'(d)', lab:[720,447], yt:[430,410], xt:[778,770]},
 {grid:{left:873.3,top:405,width:314,height:336.7}, xr:[160,3000], yr:[0.2,1020], start:e_binStart, counts:e_counts, total:e_total,
  comps:[e_cd106,e_cdwo,e_plastic,e_optical,e_teflon,null,e_intCu,e_extCu,e_pmt,e_alpha,null,e_qz106],
  label:'(e)', lab:[1138,443], yt:[840,408], xt:[1190,773]}
];

const minorVals = decades.flatMap(d => minorMult.map(m => +(m*d).toPrecision(3)));
const conv = arr => arr.map(p => p === null ? ['-','-'] : p);
const axisFont = 'Liberation Sans';

function dataRender(ymin){
  return function(params, api){
    const x = api.value(0), n = api.value(1);
    const e = Math.sqrt(n);
    const lo = Math.max(n - e, ymin), hi = n + e;
    const pc = api.coord([x, n]);
    const pl = api.coord([x - BIN/2, n]);
    const pr = api.coord([x + BIN/2, n]);
    const pt = api.coord([x, hi]);
    const pb = api.coord([x, lo]);
    return {type:'group', children:[
      {type:'line', shape:{x1:pt[0],y1:pt[1],x2:pb[0],y2:pb[1]}, style:{stroke:'#6e6e6e', lineWidth:1.5}},
      {type:'line', shape:{x1:pl[0],y1:pc[1],x2:pr[0],y2:pc[1]}, style:{stroke:'#1a1a1a', lineWidth:1}}
    ]};
  };
}
function minorRender(params, api){
  const p = api.coord([api.value(0), api.value(1)]);
  return {type:'line', shape:{x1:p[0], y1:p[1], x2:p[0]+4.5, y2:p[1]}, style:{stroke:'#555', lineWidth:1}};
}

const grid = [], xAxis = [], yAxis = [], series = [], graphic = [];
panels.forEach((p, i) => {
  grid.push(Object.assign({show:true, borderColor:'#8c8c8c', borderWidth:1, backgroundColor:'#fff'}, p.grid));
  xAxis.push({gridIndex:i, type:'value', min:p.xr[0], max:p.xr[1], minInterval:500, maxInterval:500,
    axisLine:{show:true, lineStyle:{color:'#8c8c8c'}},
    axisTick:{show:true, inside:true, length:7, lineStyle:{color:'#555'}},
    minorTick:{show:true, splitNumber:5, length:3.5, lineStyle:{color:'#555'}},
    splitLine:{show:false}, minorSplitLine:{show:false},
    axisLabel:{color:'#333', fontSize:13, fontFamily:axisFont, margin:4,
      formatter: v => xTickLabels.includes(Math.round(v)) ? String(Math.round(v)) : ''}
  });
  yAxis.push({gridIndex:i, type:'log', logBase:10, min:p.yr[0], max:p.yr[1],
    axisLine:{show:true, lineStyle:{color:'#8c8c8c'}},
    axisTick:{show:true, inside:true, length:8, lineStyle:{color:'#555'}},
    minorTick:{show:false}, splitLine:{show:false},
    axisLabel:{color:'#333', fontSize:13, fontFamily:axisFont, margin:5,
      formatter: v => { const k = yTickValues.findIndex(t => Math.abs(v/t - 1) < 1e-4); return k >= 0 ? yTickTexts[k] : ''; }}
  });
  const pts = [];
  p.counts.forEach((n, k) => { if (n > 0) pts.push([p.start + BIN*k + BIN/2, n]); });
  series.push({type:'custom', xAxisIndex:i, yAxisIndex:i, data:pts, renderItem:dataRender(p.yr[0]), clip:true, silent:true, z:2});
  series.push({type:'custom', xAxisIndex:i, yAxisIndex:i, silent:true, z:6, clip:false,
    data: minorVals.filter(v => v > p.yr[0] && v < p.yr[1]).map(v => [p.xr[0], v]), renderItem:minorRender});
  p.comps.forEach((arr, k) => {
    if (!arr) return;
    const s = compStyle[k];
    series.push({type:'line', name:compNames[k], xAxisIndex:i, yAxisIndex:i, data:conv(arr), symbol:'none', showSymbol:false,
      smooth:0.3, clip:true, silent:true, z:3, lineStyle:{color:s.color, width:s.width, type:s.type}, itemStyle:{color:s.color}});
  });
  series.push({type:'line', name:'Total', xAxisIndex:i, yAxisIndex:i, data:conv(p.total), symbol:'none', showSymbol:false,
    smooth:0.3, clip:true, silent:true, z:4, lineStyle:{color:'#c8282c', width:2.2}, itemStyle:{color:'#c8282c'}});
  graphic.push({type:'text', x:p.yt[0], y:p.yt[1], rotation:Math.PI/2,
    style:{text:'Counts / 20 keV', font:'19px "Liberation Sans"', fill:'#222', textAlign:'right', textVerticalAlign:'middle', align:'right', verticalAlign:'middle'}});
  graphic.push({type:'text', x:p.xt[0], y:p.xt[1],
    style:{text:'E, keV', font:'19px "Liberation Sans"', fill:'#222', textAlign:'right', textVerticalAlign:'middle', align:'right', verticalAlign:'middle'}});
  graphic.push({type:'text', x:p.lab[0], y:p.lab[1],
    style:{text:p.label, font:'23px "Liberation Serif"', fill:'#222', textAlign:'center', textVerticalAlign:'middle', align:'center', verticalAlign:'middle'}});
});

const chart = echarts.init(document.getElementById('c'), null, {renderer:'canvas'});
chart.setOption({
  animation:false,
  backgroundColor:'#fff',
  textStyle:{fontFamily:axisFont},
  grid, xAxis, yAxis, series, graphic,
  legend:{
    data:compNames, orient:'vertical', left:53, top:422.5, padding:0, itemWidth:119, itemHeight:14, itemGap:3.45,
    selectedMode:false, itemStyle:{opacity:0},
    formatter: name => legendTexts[compNames.indexOf(name)],
    textStyle:{padding:[0,0,0,8], rich:{
      t:{fontFamily:'Liberation Serif', fontSize:23, lineHeight:25, color:'#111'},
      g:{fontFamily:'Liberation Sans', fontSize:22, lineHeight:25, color:'#111'},
      sup:{fontFamily:'Liberation Serif', fontSize:13, lineHeight:14, verticalAlign:'top', color:'#111'},
      sub:{fontFamily:'Liberation Serif', fontSize:14, lineHeight:14, verticalAlign:'bottom', color:'#111'}
    }}
  }
});
</script></body></html>
